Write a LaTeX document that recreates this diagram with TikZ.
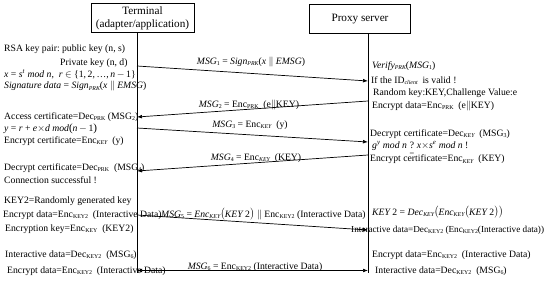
\documentclass[tikz,border=0pt]{standalone}
\usepackage{amsmath}
\usepackage{fontspec}
\setmainfont{Liberation Serif}
\usetikzlibrary{arrows.meta}
\newcommand{\sub}[1]{\raisebox{-1.7pt}{\fontsize{5.9}{6}\selectfont #1}}
\newcommand{\isub}[1]{\raisebox{-1.7pt}{\fontsize{5.9}{6}\selectfont\itshape #1}}
\newcommand{\ti}[1]{\textit{#1}}
\newcommand{\qeq}{\smash{$\underset{\scriptscriptstyle =}{\text{?}}$}}
\begin{document}
\begin{tikzpicture}[x=1pt,y=-1pt,
  txt/.style={inner sep=0pt,anchor=base west,font=\fontsize{9.7}{11}\selectfont},
  lbl/.style={inner sep=0pt,anchor=base,font=\fontsize{9.7}{11}\selectfont},
  actor/.style={draw,line width=0.9pt,inner sep=0pt,font=\fontsize{11.2}{13}\selectfont,align=center},
  life/.style={line width=0.8pt},
  msg/.style={line width=0.7pt,-{Latex[length=5pt,width=3.8pt]}},
  dmsg/.style={line width=0.7pt,{Latex[length=5pt,width=3.8pt]}-{Latex[length=5pt,width=3.8pt]}}]
\useasboundingbox (0,0) rectangle (550,284);
% actors
\node[actor,minimum width=103pt,minimum height=29.5pt] (term) at (142.5,18) {Terminal\\(adapter/application)};
\node[actor,minimum width=101pt,minimum height=29pt] (proxy) at (360,18.7) {Proxy server};
\coordinate (ttop) at (137,33);
\coordinate (tbot) at (137,273);
\coordinate (ptop) at (368,33.2);
\coordinate (pbot) at (368,273);
\draw[life] (ttop) -- (tbot);
\draw[life] (ptop) -- (pbot);
% message endpoints
\coordinate (a1) at (137,66);  \coordinate (b1) at (368,81);
\coordinate (a2) at (368,101); \coordinate (b2) at (137,117);
\coordinate (a3) at (137,128); \coordinate (b3) at (368,142);
\coordinate (a4) at (368,155); \coordinate (b4) at (137,171);
\coordinate (a5) at (137,215); \coordinate (b5) at (368,230);
\coordinate (a6) at (137,270.5); \coordinate (b6) at (368,270.5);
\draw[msg] (a1) -- (b1);
\draw[msg] (a2) -- (b2);
\draw[msg] (a3) -- (b3);
\draw[msg] (a4) -- (b4);
\draw[msg] (a5) -- (b5);
\draw[dmsg] (a6) -- (b6);
% message labels
\node[lbl] (m1) at (251,64) {\ti{MSG}\sub{1} = \ti{Sign}\isub{PRK}(\ti{x} $\|$ \ti{EMSG})};
\node[lbl] (m2) at (249,107) {\ti{MSG}\sub{2} = Enc\sub{PRK}\ \ (e$\|$KEY)};
\node[lbl] (m3) at (250,127) {\ti{MSG}\sub{3} = Enc\isub{KEY}\ \ (y)};
\node[lbl] (m4) at (256,160) {\ti{MSG}\sub{4} = Enc\isub{KEY}\ \ (KEY)};
\node[txt] (m5) at (161,217) {\ti{MSG}\sub{5} = \ti{Enc}\isub{KEY}$\big($\ti{KEY}\,2$\big)$ $\|$ Enc\sub{KEY2}\ (Interactive Data)};
\node[lbl] (m6) at (255,269) {\ti{MSG}\sub{6} = Enc\sub{KEY2}\ (Interactive Data)};
% terminal side
\node[txt] (l1) at (4,51) {RSA key pair:\ public key\ (n, s)};
\node[txt] (l2) at (60,65.5) {Private key (n, d)};
\node[txt] (l3) at (4,77.5) {\ti{x} = \ti{s}\textsuperscript{\ti{t}} \ti{mod n},\ \ \ti{r} $\in$ \{1,\,2,\,…,\,\ti{n}\,$-$\,1\}};
\node[txt] (l4) at (4,88.5) {\ti{Signature data} = \ti{Sign}\isub{PRK}(\ti{x} $\|$ \ti{EMSG})};
\node[txt] (l5) at (4,119) {Access certificate=Dec\sub{PRK}\ (MSG\sub{2})};
\node[txt] (l6) at (4,131) {\ti{y} = \ti{r} + \ti{e}$\times$\ti{d mod}{\fontsize{11}{11}\selectfont(}\ti{n}\,$-$\,1{\fontsize{11}{11}\selectfont)}};
\node[txt] (l7) at (4,143) {Encrypt certificate=Enc\isub{KEY}\ \ (y)};
\node[txt] (l8) at (4,170) {Decrypt certificate=Dec\sub{PRK}\ \ (MSG\sub{4})};
\node[txt] (l9) at (4,183) {Connection successful !};
\node[txt] (l10) at (4,203) {KEY2=Randomly generated key};
\node[txt] (l11) at (3,217) {Encrypt data=Enc\sub{KEY2}\ \ (Interactive Data)};
\node[txt] (l12) at (5,231) {Encryption key=Enc\sub{KEY}\ \ (KEY2)};
\node[txt] (l13) at (5,257) {Interactive data=Dec\sub{KEY2}\ \ (MSG\sub{6})};
\node[txt] (l14) at (7,273) {Encrypt data=Enc\sub{KEY2}\ \ (Interactive Data)};
% proxy side
\node[txt] (r1) at (372,68) {\ti{Verify}\isub{PRK}(\ti{MSG}\sub{1})};
\node[txt] (r2) at (371,83) {If the ID\isub{client}\ \ is valid !};
\node[txt] (r3) at (373,95) {Random key:KEY,Challenge Value:e};
\node[txt] (r4) at (372,108) {Encrypt data=Enc\sub{PRK}\ \ (e$\|$KEY)};
\node[txt] (r5) at (370,136) {Decrypt certificate=Dec\isub{KEY}\ \ (MSG\sub{3})};
\node[txt] (r6) at (372,148.5) {\ti{g}\textsuperscript{\ti{y}} \ti{mod n} \qeq\ \ti{x}$\times$\ti{s}\textsuperscript{\ti{e}} \ti{mod n} !};
\node[txt] (r7) at (370,161.5) {Encrypt certificate=Enc\isub{KEY}\ \ (KEY)};
\node[txt] (r8) at (372,215) {\ti{KEY}\,2 = \ti{Dec}\isub{KEY}$\big($\ti{Enc}\isub{KEY}$\big($\ti{KEY}\,2$\big)\big)$};
\node[txt,font=\fontsize{9.2}{11}\selectfont] (r9) at (351,232) {Interactive data=Dec\sub{KEY2}\ (Enc\sub{KEY2}(Interactive data))};
\node[txt] (r10) at (372,257) {Encrypt data=Enc\sub{KEY2}\ \ (Interactive Data)};
\node[txt] (r11) at (375,273) {Interactive data=Dec\sub{KEY2}\ \ (MSG\sub{6})};
\end{tikzpicture}
\end{document}
